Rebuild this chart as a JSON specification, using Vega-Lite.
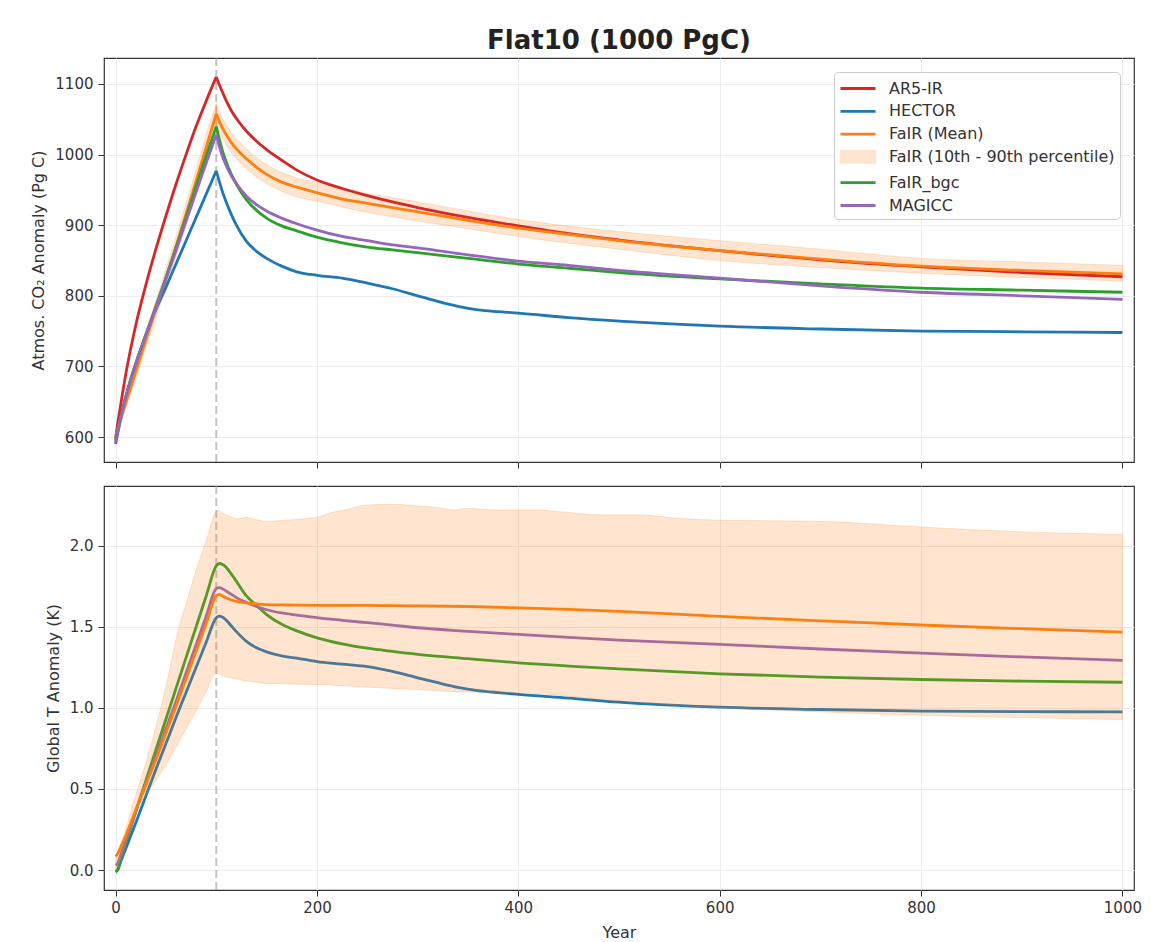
{
  "$schema": "https://vega.github.io/schema/vega-lite/v6.json",
  "padding": {"left": 30, "top": 28, "right": 7, "bottom": 0},
  "background": "white",
  "title": {"text": "Flat10 (1000 PgC)", "fontSize": 26, "fontWeight": "bold", "font": "DejaVu Sans", "color": "#222", "anchor": "middle", "frame": "group", "baseline": "alphabetic", "offset": -19},
  "config": {
    "font": "DejaVu Sans",
    "view": {"stroke": "#333", "strokeWidth": 1.2},
    "axis": {"labelFontSize": 15, "labelColor": "#333", "labelFont": "DejaVu Sans", "titleFont": "DejaVu Sans", "titleFontSize": 16, "titleFontWeight": "normal", "titleColor": "#333", "tickColor": "#333", "tickSize": 6, "tickWidth": 1, "domain": false, "gridColor": "#ececec", "gridWidth": 1, "labelPadding": 5, "titlePadding": 8}
  },
  "datasets": {
    "co2": [
      {"model":"AR5-IR","seg":"a","year":0,"value":598},{"model":"AR5-IR","seg":"a","year":2,"value":618},{"model":"AR5-IR","seg":"a","year":5,"value":645},{"model":"AR5-IR","seg":"a","year":10,"value":688},{"model":"AR5-IR","seg":"a","year":15,"value":725},{"model":"AR5-IR","seg":"a","year":20,"value":758},{"model":"AR5-IR","seg":"a","year":30,"value":815},{"model":"AR5-IR","seg":"a","year":40,"value":866},{"model":"AR5-IR","seg":"a","year":50,"value":913},{"model":"AR5-IR","seg":"a","year":60,"value":958},{"model":"AR5-IR","seg":"a","year":70,"value":1000},{"model":"AR5-IR","seg":"a","year":80,"value":1040},{"model":"AR5-IR","seg":"a","year":90,"value":1076},{"model":"AR5-IR","seg":"a","year":100,"value":1110},
      {"model":"AR5-IR","seg":"b","year":100,"value":1110},{"model":"AR5-IR","seg":"b","year":103,"value":1099},{"model":"AR5-IR","seg":"b","year":106,"value":1089},{"model":"AR5-IR","seg":"b","year":110,"value":1076},{"model":"AR5-IR","seg":"b","year":115,"value":1062},{"model":"AR5-IR","seg":"b","year":120,"value":1051},{"model":"AR5-IR","seg":"b","year":130,"value":1033},{"model":"AR5-IR","seg":"b","year":140,"value":1019},{"model":"AR5-IR","seg":"b","year":150,"value":1007},{"model":"AR5-IR","seg":"b","year":165,"value":992},{"model":"AR5-IR","seg":"b","year":180,"value":978},{"model":"AR5-IR","seg":"b","year":200,"value":964},{"model":"AR5-IR","seg":"b","year":225,"value":952},{"model":"AR5-IR","seg":"b","year":250,"value":942},{"model":"AR5-IR","seg":"b","year":275,"value":933},{"model":"AR5-IR","seg":"b","year":300,"value":925},{"model":"AR5-IR","seg":"b","year":350,"value":911},{"model":"AR5-IR","seg":"b","year":400,"value":899},{"model":"AR5-IR","seg":"b","year":450,"value":888},{"model":"AR5-IR","seg":"b","year":500,"value":879},{"model":"AR5-IR","seg":"b","year":600,"value":864},{"model":"AR5-IR","seg":"b","year":700,"value":851},{"model":"AR5-IR","seg":"b","year":800,"value":841},{"model":"AR5-IR","seg":"b","year":900,"value":833},{"model":"AR5-IR","seg":"b","year":1000,"value":827},
      {"model":"HECTOR","seg":"a","year":0,"value":590},{"model":"HECTOR","seg":"a","year":2,"value":604},{"model":"HECTOR","seg":"a","year":5,"value":625},{"model":"HECTOR","seg":"a","year":10,"value":655},{"model":"HECTOR","seg":"a","year":15,"value":680},{"model":"HECTOR","seg":"a","year":20,"value":703},{"model":"HECTOR","seg":"a","year":30,"value":744},{"model":"HECTOR","seg":"a","year":40,"value":780},{"model":"HECTOR","seg":"a","year":50,"value":812},{"model":"HECTOR","seg":"a","year":60,"value":845},{"model":"HECTOR","seg":"a","year":70,"value":878},{"model":"HECTOR","seg":"a","year":80,"value":911},{"model":"HECTOR","seg":"a","year":90,"value":944},{"model":"HECTOR","seg":"a","year":100,"value":977},
      {"model":"HECTOR","seg":"b","year":100,"value":977},{"model":"HECTOR","seg":"b","year":103,"value":962},{"model":"HECTOR","seg":"b","year":106,"value":948},{"model":"HECTOR","seg":"b","year":110,"value":932},{"model":"HECTOR","seg":"b","year":115,"value":915},{"model":"HECTOR","seg":"b","year":120,"value":900},{"model":"HECTOR","seg":"b","year":130,"value":877},{"model":"HECTOR","seg":"b","year":140,"value":863},{"model":"HECTOR","seg":"b","year":150,"value":853},{"model":"HECTOR","seg":"b","year":165,"value":842},{"model":"HECTOR","seg":"b","year":180,"value":834},{"model":"HECTOR","seg":"b","year":200,"value":829},{"model":"HECTOR","seg":"b","year":225,"value":825},{"model":"HECTOR","seg":"b","year":250,"value":818},{"model":"HECTOR","seg":"b","year":275,"value":810},{"model":"HECTOR","seg":"b","year":300,"value":800},{"model":"HECTOR","seg":"b","year":320,"value":792},{"model":"HECTOR","seg":"b","year":340,"value":785},{"model":"HECTOR","seg":"b","year":360,"value":780},{"model":"HECTOR","seg":"b","year":380,"value":777.5},{"model":"HECTOR","seg":"b","year":400,"value":775.5},{"model":"HECTOR","seg":"b","year":450,"value":769},{"model":"HECTOR","seg":"b","year":500,"value":764},{"model":"HECTOR","seg":"b","year":600,"value":757},{"model":"HECTOR","seg":"b","year":700,"value":753},{"model":"HECTOR","seg":"b","year":800,"value":750},{"model":"HECTOR","seg":"b","year":900,"value":749},{"model":"HECTOR","seg":"b","year":1000,"value":748},
      {"model":"FaIR (Mean)","seg":"a","year":0,"value":600},{"model":"FaIR (Mean)","seg":"a","year":2,"value":610},{"model":"FaIR (Mean)","seg":"a","year":5,"value":625},{"model":"FaIR (Mean)","seg":"a","year":10,"value":648},{"model":"FaIR (Mean)","seg":"a","year":15,"value":670},{"model":"FaIR (Mean)","seg":"a","year":20,"value":692},{"model":"FaIR (Mean)","seg":"a","year":30,"value":737},{"model":"FaIR (Mean)","seg":"a","year":40,"value":781},{"model":"FaIR (Mean)","seg":"a","year":50,"value":825},{"model":"FaIR (Mean)","seg":"a","year":60,"value":870},{"model":"FaIR (Mean)","seg":"a","year":70,"value":916},{"model":"FaIR (Mean)","seg":"a","year":80,"value":963},{"model":"FaIR (Mean)","seg":"a","year":90,"value":1010},{"model":"FaIR (Mean)","seg":"a","year":100,"value":1058},
      {"model":"FaIR (Mean)","seg":"b","year":100,"value":1058},{"model":"FaIR (Mean)","seg":"b","year":103,"value":1047},{"model":"FaIR (Mean)","seg":"b","year":106,"value":1038},{"model":"FaIR (Mean)","seg":"b","year":110,"value":1028},{"model":"FaIR (Mean)","seg":"b","year":115,"value":1017},{"model":"FaIR (Mean)","seg":"b","year":120,"value":1008},{"model":"FaIR (Mean)","seg":"b","year":130,"value":994},{"model":"FaIR (Mean)","seg":"b","year":140,"value":982},{"model":"FaIR (Mean)","seg":"b","year":150,"value":972},{"model":"FaIR (Mean)","seg":"b","year":165,"value":961},{"model":"FaIR (Mean)","seg":"b","year":180,"value":954},{"model":"FaIR (Mean)","seg":"b","year":200,"value":946},{"model":"FaIR (Mean)","seg":"b","year":225,"value":937},{"model":"FaIR (Mean)","seg":"b","year":250,"value":931},{"model":"FaIR (Mean)","seg":"b","year":275,"value":925},{"model":"FaIR (Mean)","seg":"b","year":300,"value":919},{"model":"FaIR (Mean)","seg":"b","year":350,"value":907},{"model":"FaIR (Mean)","seg":"b","year":400,"value":896},{"model":"FaIR (Mean)","seg":"b","year":450,"value":887},{"model":"FaIR (Mean)","seg":"b","year":500,"value":878},{"model":"FaIR (Mean)","seg":"b","year":600,"value":864},{"model":"FaIR (Mean)","seg":"b","year":700,"value":852},{"model":"FaIR (Mean)","seg":"b","year":800,"value":842},{"model":"FaIR (Mean)","seg":"b","year":900,"value":836},{"model":"FaIR (Mean)","seg":"b","year":1000,"value":831},
      {"model":"FaIR_bgc","seg":"a","year":0,"value":595},{"model":"FaIR_bgc","seg":"a","year":2,"value":610},{"model":"FaIR_bgc","seg":"a","year":5,"value":628},{"model":"FaIR_bgc","seg":"a","year":10,"value":657},{"model":"FaIR_bgc","seg":"a","year":15,"value":682},{"model":"FaIR_bgc","seg":"a","year":20,"value":704},{"model":"FaIR_bgc","seg":"a","year":30,"value":745},{"model":"FaIR_bgc","seg":"a","year":40,"value":785},{"model":"FaIR_bgc","seg":"a","year":50,"value":826},{"model":"FaIR_bgc","seg":"a","year":60,"value":868},{"model":"FaIR_bgc","seg":"a","year":70,"value":911},{"model":"FaIR_bgc","seg":"a","year":80,"value":955},{"model":"FaIR_bgc","seg":"a","year":90,"value":998},{"model":"FaIR_bgc","seg":"a","year":100,"value":1040},
      {"model":"FaIR_bgc","seg":"b","year":100,"value":1040},{"model":"FaIR_bgc","seg":"b","year":103,"value":1022},{"model":"FaIR_bgc","seg":"b","year":106,"value":1006},{"model":"FaIR_bgc","seg":"b","year":110,"value":989},{"model":"FaIR_bgc","seg":"b","year":115,"value":972},{"model":"FaIR_bgc","seg":"b","year":120,"value":958},{"model":"FaIR_bgc","seg":"b","year":130,"value":936},{"model":"FaIR_bgc","seg":"b","year":140,"value":921},{"model":"FaIR_bgc","seg":"b","year":150,"value":910},{"model":"FaIR_bgc","seg":"b","year":165,"value":899},{"model":"FaIR_bgc","seg":"b","year":180,"value":892},{"model":"FaIR_bgc","seg":"b","year":200,"value":883},{"model":"FaIR_bgc","seg":"b","year":225,"value":875},{"model":"FaIR_bgc","seg":"b","year":250,"value":869},{"model":"FaIR_bgc","seg":"b","year":275,"value":865},{"model":"FaIR_bgc","seg":"b","year":300,"value":861},{"model":"FaIR_bgc","seg":"b","year":350,"value":853},{"model":"FaIR_bgc","seg":"b","year":400,"value":845},{"model":"FaIR_bgc","seg":"b","year":450,"value":839},{"model":"FaIR_bgc","seg":"b","year":500,"value":833},{"model":"FaIR_bgc","seg":"b","year":600,"value":824},{"model":"FaIR_bgc","seg":"b","year":700,"value":817},{"model":"FaIR_bgc","seg":"b","year":800,"value":811},{"model":"FaIR_bgc","seg":"b","year":900,"value":808},{"model":"FaIR_bgc","seg":"b","year":1000,"value":805},
      {"model":"MAGICC","seg":"a","year":0,"value":592},{"model":"MAGICC","seg":"a","year":2,"value":607},{"model":"MAGICC","seg":"a","year":5,"value":626},{"model":"MAGICC","seg":"a","year":10,"value":656},{"model":"MAGICC","seg":"a","year":15,"value":681},{"model":"MAGICC","seg":"a","year":20,"value":703},{"model":"MAGICC","seg":"a","year":30,"value":744},{"model":"MAGICC","seg":"a","year":40,"value":783},{"model":"MAGICC","seg":"a","year":50,"value":823},{"model":"MAGICC","seg":"a","year":60,"value":864},{"model":"MAGICC","seg":"a","year":70,"value":906},{"model":"MAGICC","seg":"a","year":80,"value":947},{"model":"MAGICC","seg":"a","year":90,"value":988},{"model":"MAGICC","seg":"a","year":100,"value":1028},
      {"model":"MAGICC","seg":"b","year":100,"value":1028},{"model":"MAGICC","seg":"b","year":103,"value":1012},{"model":"MAGICC","seg":"b","year":106,"value":998},{"model":"MAGICC","seg":"b","year":110,"value":984},{"model":"MAGICC","seg":"b","year":115,"value":970},{"model":"MAGICC","seg":"b","year":120,"value":959},{"model":"MAGICC","seg":"b","year":130,"value":941},{"model":"MAGICC","seg":"b","year":140,"value":929},{"model":"MAGICC","seg":"b","year":150,"value":920},{"model":"MAGICC","seg":"b","year":165,"value":910},{"model":"MAGICC","seg":"b","year":180,"value":902},{"model":"MAGICC","seg":"b","year":200,"value":893},{"model":"MAGICC","seg":"b","year":225,"value":884},{"model":"MAGICC","seg":"b","year":250,"value":878},{"model":"MAGICC","seg":"b","year":275,"value":872},{"model":"MAGICC","seg":"b","year":300,"value":868},{"model":"MAGICC","seg":"b","year":350,"value":858},{"model":"MAGICC","seg":"b","year":400,"value":849},{"model":"MAGICC","seg":"b","year":450,"value":843},{"model":"MAGICC","seg":"b","year":500,"value":836},{"model":"MAGICC","seg":"b","year":600,"value":825},{"model":"MAGICC","seg":"b","year":700,"value":814},{"model":"MAGICC","seg":"b","year":800,"value":805},{"model":"MAGICC","seg":"b","year":900,"value":800},{"model":"MAGICC","seg":"b","year":1000,"value":795}
    ],
    "co2band": [
      {"seg":"a","year":0,"lo":596,"hi":604},{"seg":"a","year":10,"lo":640,"hi":658},{"seg":"a","year":20,"lo":683,"hi":703},{"seg":"a","year":30,"lo":726,"hi":748},{"seg":"a","year":40,"lo":769,"hi":793},{"seg":"a","year":50,"lo":811,"hi":838},{"seg":"a","year":60,"lo":855,"hi":884},{"seg":"a","year":70,"lo":899,"hi":931},{"seg":"a","year":80,"lo":944,"hi":979},{"seg":"a","year":90,"lo":990,"hi":1028},{"seg":"a","year":100,"lo":1043,"hi":1072},
      {"seg":"b","year":100,"lo":1043,"hi":1072},{"seg":"b","year":103,"lo":1033,"hi":1061},{"seg":"b","year":106,"lo":1024,"hi":1052},{"seg":"b","year":110,"lo":1014,"hi":1042},{"seg":"b","year":115,"lo":1003,"hi":1031},{"seg":"b","year":120,"lo":994,"hi":1022},{"seg":"b","year":130,"lo":980,"hi":1008},{"seg":"b","year":140,"lo":968,"hi":996},{"seg":"b","year":150,"lo":959,"hi":986},{"seg":"b","year":165,"lo":948,"hi":975},{"seg":"b","year":180,"lo":940,"hi":967},{"seg":"b","year":200,"lo":934,"hi":961},{"seg":"b","year":250,"lo":918,"hi":945},{"seg":"b","year":300,"lo":906,"hi":933},{"seg":"b","year":350,"lo":895,"hi":920},{"seg":"b","year":400,"lo":884,"hi":908},{"seg":"b","year":500,"lo":866,"hi":891},{"seg":"b","year":600,"lo":850,"hi":878},{"seg":"b","year":700,"lo":840,"hi":866},{"seg":"b","year":800,"lo":832,"hi":853},{"seg":"b","year":900,"lo":826,"hi":848},{"seg":"b","year":1000,"lo":821,"hi":843}
    ],
    "temp": [
      {"year":0,"model":"HECTOR","value":-0.01},{"year":2,"model":"HECTOR","value":0.0},{"year":5,"model":"HECTOR","value":0.05},{"year":10,"model":"HECTOR","value":0.13},{"year":15,"model":"HECTOR","value":0.21},{"year":20,"model":"HECTOR","value":0.29},{"year":30,"model":"HECTOR","value":0.455},{"year":40,"model":"HECTOR","value":0.62},{"year":50,"model":"HECTOR","value":0.78},{"year":60,"model":"HECTOR","value":0.94},{"year":70,"model":"HECTOR","value":1.095},{"year":80,"model":"HECTOR","value":1.25},{"year":90,"model":"HECTOR","value":1.405},{"year":100,"model":"HECTOR","value":1.555},{"year":103,"model":"HECTOR","value":1.566},{"year":106,"model":"HECTOR","value":1.56},{"year":110,"model":"HECTOR","value":1.54},{"year":115,"model":"HECTOR","value":1.505},{"year":120,"model":"HECTOR","value":1.47},{"year":130,"model":"HECTOR","value":1.41},{"year":140,"model":"HECTOR","value":1.37},{"year":150,"model":"HECTOR","value":1.345},{"year":165,"model":"HECTOR","value":1.32},{"year":180,"model":"HECTOR","value":1.307},{"year":200,"model":"HECTOR","value":1.285},{"year":225,"model":"HECTOR","value":1.27},{"year":250,"model":"HECTOR","value":1.255},{"year":275,"model":"HECTOR","value":1.225},{"year":300,"model":"HECTOR","value":1.185},{"year":320,"model":"HECTOR","value":1.155},{"year":340,"model":"HECTOR","value":1.127},{"year":360,"model":"HECTOR","value":1.107},{"year":380,"model":"HECTOR","value":1.094},{"year":400,"model":"HECTOR","value":1.083},{"year":450,"model":"HECTOR","value":1.06},{"year":500,"model":"HECTOR","value":1.035},{"year":600,"model":"HECTOR","value":1.004},{"year":700,"model":"HECTOR","value":0.99},{"year":800,"model":"HECTOR","value":0.98},{"year":900,"model":"HECTOR","value":0.977},{"year":1000,"model":"HECTOR","value":0.975},
      {"year":0,"model":"FaIR_bgc","value":-0.01},{"year":2,"model":"FaIR_bgc","value":0.0},{"year":5,"model":"FaIR_bgc","value":0.06},{"year":10,"model":"FaIR_bgc","value":0.16},{"year":15,"model":"FaIR_bgc","value":0.26},{"year":20,"model":"FaIR_bgc","value":0.36},{"year":30,"model":"FaIR_bgc","value":0.55},{"year":40,"model":"FaIR_bgc","value":0.74},{"year":50,"model":"FaIR_bgc","value":0.93},{"year":60,"model":"FaIR_bgc","value":1.12},{"year":70,"model":"FaIR_bgc","value":1.31},{"year":80,"model":"FaIR_bgc","value":1.5},{"year":90,"model":"FaIR_bgc","value":1.69},{"year":100,"model":"FaIR_bgc","value":1.875},{"year":103,"model":"FaIR_bgc","value":1.89},{"year":106,"model":"FaIR_bgc","value":1.885},{"year":110,"model":"FaIR_bgc","value":1.865},{"year":115,"model":"FaIR_bgc","value":1.825},{"year":120,"model":"FaIR_bgc","value":1.78},{"year":130,"model":"FaIR_bgc","value":1.69},{"year":140,"model":"FaIR_bgc","value":1.63},{"year":150,"model":"FaIR_bgc","value":1.575},{"year":165,"model":"FaIR_bgc","value":1.515},{"year":180,"model":"FaIR_bgc","value":1.475},{"year":200,"model":"FaIR_bgc","value":1.432},{"year":225,"model":"FaIR_bgc","value":1.395},{"year":250,"model":"FaIR_bgc","value":1.368},{"year":275,"model":"FaIR_bgc","value":1.348},{"year":300,"model":"FaIR_bgc","value":1.33},{"year":350,"model":"FaIR_bgc","value":1.303},{"year":400,"model":"FaIR_bgc","value":1.278},{"year":450,"model":"FaIR_bgc","value":1.258},{"year":500,"model":"FaIR_bgc","value":1.24},{"year":600,"model":"FaIR_bgc","value":1.21},{"year":700,"model":"FaIR_bgc","value":1.19},{"year":800,"model":"FaIR_bgc","value":1.175},{"year":900,"model":"FaIR_bgc","value":1.165},{"year":1000,"model":"FaIR_bgc","value":1.158},
      {"year":0,"model":"MAGICC","value":0.03},{"year":2,"model":"MAGICC","value":0.04},{"year":5,"model":"MAGICC","value":0.09},{"year":10,"model":"MAGICC","value":0.18},{"year":15,"model":"MAGICC","value":0.27},{"year":20,"model":"MAGICC","value":0.36},{"year":30,"model":"MAGICC","value":0.53},{"year":40,"model":"MAGICC","value":0.70},{"year":50,"model":"MAGICC","value":0.87},{"year":60,"model":"MAGICC","value":1.04},{"year":70,"model":"MAGICC","value":1.215},{"year":80,"model":"MAGICC","value":1.39},{"year":90,"model":"MAGICC","value":1.565},{"year":100,"model":"MAGICC","value":1.735},{"year":103,"model":"MAGICC","value":1.741},{"year":106,"model":"MAGICC","value":1.735},{"year":110,"model":"MAGICC","value":1.72},{"year":115,"model":"MAGICC","value":1.70},{"year":120,"model":"MAGICC","value":1.68},{"year":130,"model":"MAGICC","value":1.65},{"year":140,"model":"MAGICC","value":1.625},{"year":150,"model":"MAGICC","value":1.605},{"year":165,"model":"MAGICC","value":1.585},{"year":180,"model":"MAGICC","value":1.572},{"year":200,"model":"MAGICC","value":1.556},{"year":225,"model":"MAGICC","value":1.54},{"year":250,"model":"MAGICC","value":1.525},{"year":275,"model":"MAGICC","value":1.51},{"year":300,"model":"MAGICC","value":1.494},{"year":350,"model":"MAGICC","value":1.472},{"year":400,"model":"MAGICC","value":1.453},{"year":450,"model":"MAGICC","value":1.435},{"year":500,"model":"MAGICC","value":1.418},{"year":600,"model":"MAGICC","value":1.391},{"year":700,"model":"MAGICC","value":1.363},{"year":800,"model":"MAGICC","value":1.337},{"year":900,"model":"MAGICC","value":1.314},{"year":1000,"model":"MAGICC","value":1.293}
    ],
    "tempfair": [
      {"year":0,"value":0.085},{"year":2,"value":0.1},{"year":5,"value":0.14},{"year":10,"value":0.21},{"year":15,"value":0.29},{"year":20,"value":0.37},{"year":30,"value":0.525},{"year":40,"value":0.68},{"year":50,"value":0.845},{"year":60,"value":1.01},{"year":70,"value":1.18},{"year":80,"value":1.35},{"year":90,"value":1.52},{"year":100,"value":1.692},{"year":103,"value":1.70},{"year":106,"value":1.69},{"year":110,"value":1.677},{"year":115,"value":1.665},{"year":120,"value":1.656},{"year":130,"value":1.647},{"year":140,"value":1.641},{"year":150,"value":1.637},{"year":165,"value":1.635},{"year":180,"value":1.633},{"year":200,"value":1.632},{"year":225,"value":1.632},{"year":250,"value":1.632},{"year":275,"value":1.63},{"year":300,"value":1.629},{"year":350,"value":1.625},{"year":400,"value":1.617},{"year":450,"value":1.607},{"year":500,"value":1.595},{"year":600,"value":1.564},{"year":700,"value":1.537},{"year":800,"value":1.511},{"year":900,"value":1.488},{"year":1000,"value":1.467}
    ],
    "tband": [
      {"year":0,"lo":0.0,"hi":0.09},{"year":5,"lo":0.07,"hi":0.16},{"year":10,"lo":0.15,"hi":0.25},{"year":15,"lo":0.25,"hi":0.36},{"year":20,"lo":0.35,"hi":0.46},{"year":23,"lo":0.40,"hi":0.52},{"year":30,"lo":0.46,"hi":0.66},{"year":40,"lo":0.55,"hi":0.88},{"year":50,"lo":0.65,"hi":1.13},{"year":63,"lo":0.79,"hi":1.5},{"year":70,"lo":0.87,"hi":1.64},{"year":80,"lo":0.98,"hi":1.85},{"year":90,"lo":1.10,"hi":2.03},{"year":100,"lo":1.216,"hi":2.21},{"year":103,"lo":1.21,"hi":2.215},{"year":106,"lo":1.2,"hi":2.2},{"year":110,"lo":1.19,"hi":2.19},{"year":115,"lo":1.185,"hi":2.175},{"year":120,"lo":1.18,"hi":2.165},{"year":130,"lo":1.165,"hi":2.175},{"year":140,"lo":1.16,"hi":2.16},{"year":150,"lo":1.15,"hi":2.15},{"year":165,"lo":1.148,"hi":2.155},{"year":182,"lo":1.145,"hi":2.163},{"year":200,"lo":1.144,"hi":2.175},{"year":215,"lo":1.14,"hi":2.205},{"year":231,"lo":1.135,"hi":2.225},{"year":248,"lo":1.128,"hi":2.25},{"year":275,"lo":1.12,"hi":2.255},{"year":300,"lo":1.113,"hi":2.245},{"year":320,"lo":1.105,"hi":2.235},{"year":336,"lo":1.1,"hi":2.22},{"year":348,"lo":1.098,"hi":2.23},{"year":380,"lo":1.094,"hi":2.22},{"year":413,"lo":1.09,"hi":2.22},{"year":450,"lo":1.072,"hi":2.205},{"year":480,"lo":1.052,"hi":2.19},{"year":520,"lo":1.035,"hi":2.19},{"year":560,"lo":1.015,"hi":2.168},{"year":600,"lo":1.0,"hi":2.157},{"year":700,"lo":0.975,"hi":2.15},{"year":800,"lo":0.955,"hi":2.115},{"year":900,"lo":0.94,"hi":2.085},{"year":1000,"lo":0.928,"hi":2.07}
    ],
    "marker": [{"year": 100}]
  },
  "spacing": 14,
  "resolve": {"scale": {"color": "independent", "strokeWidth": "independent"}, "legend": {"color": "independent"}},
  "vconcat": [
    {
      "width": 1030,
      "height": 404,
      "layer": [
        {
          "data": {"name": "marker"},
          "mark": {"type": "rule", "color": "#9a9a9a", "opacity": 0.6, "strokeWidth": 2, "strokeDash": [8, 4]},
          "encoding": {"x": {"field": "year", "type": "quantitative", "scale": {"domain": [-11.5, 1011.5], "nice": false, "zero": false}}}
        },
        {
          "data": {"name": "co2band"},
          "mark": {"type": "area", "interpolate": "monotone", "fill": "#ff7f0e", "fillOpacity": 0.2, "stroke": "#ff7f0e", "strokeOpacity": 0.2, "strokeWidth": 1},
          "encoding": {
            "x": {"field": "year", "type": "quantitative", "scale": {"domain": [-11.5, 1011.5], "nice": false, "zero": false}, "axis": {"values": [0, 200, 400, 600, 800, 1000], "labels": false, "title": null, "grid": true}},
            "y": {"field": "lo", "type": "quantitative", "scale": {"domain": [564.6, 1136.8], "nice": false, "zero": false}, "axis": {"values": [600, 700, 800, 900, 1000, 1100], "format": "d", "title": "Atmos. CO₂ Anomaly (Pg C)", "grid": true}},
            "y2": {"field": "hi"},
            "detail": {"field": "seg", "type": "nominal"}
          }
        },
        {
          "data": {"name": "co2"},
          "mark": {"type": "line", "interpolate": "monotone"},
          "encoding": {
            "x": {"field": "year", "type": "quantitative"},
            "y": {"field": "value", "type": "quantitative"},
            "detail": {"field": "seg", "type": "nominal"},
            "color": {
              "field": "model", "type": "nominal",
              "scale": {"domain": ["AR5-IR", "HECTOR", "FaIR (Mean)", "FaIR (10th - 90th percentile)", "FaIR_bgc", "MAGICC"], "range": ["#d62728", "#1f77b4", "#ff7f0e", "#ffe5cf", "#2ca02c", "#9467bd"]},
              "legend": {
                "title": null, "orient": "top-right", "offset": 14,
                "labelFont": "DejaVu Sans", "labelFontSize": 16, "labelColor": "#333", "labelLimit": 400,
                "symbolSize": 400, "symbolStrokeWidth": 2.8, "symbolOffset": 7.5, "labelOffset": 19.5,
                "rowPadding": 2.8, "padding": 5,
                "fillColor": "rgba(255,255,255,0.85)", "strokeColor": "#cccccc", "cornerRadius": 4,
                "encode": {
                  "symbols": {
                    "update": {
                      "shape": {"signal": "datum.value === 'FaIR (10th - 90th percentile)' ? 'M-1.7,-0.55H1.7V0.55H-1.7Z' : 'M-1.75,0H1.75'"},
                      "fill": {"signal": "datum.value === 'FaIR (10th - 90th percentile)' ? '#ffe5cf' : 'transparent'"},
                      "stroke": {"signal": "datum.value === 'AR5-IR' ? '#d62728' : datum.value === 'HECTOR' ? '#1f77b4' : datum.value === 'FaIR (Mean)' ? '#ff7f0e' : datum.value === 'FaIR_bgc' ? '#2ca02c' : datum.value === 'MAGICC' ? '#9467bd' : '#ffcc9e'"},
                      "strokeWidth": {"signal": "datum.value === 'FaIR_bgc' ? 2.1 : datum.value === 'FaIR (10th - 90th percentile)' ? 1 : 2.8"},
                      "opacity": {"value": 1}
                    }
                  }
                }
              }
            },
            "strokeWidth": {
              "field": "model", "type": "ordinal",
              "scale": {"domain": ["AR5-IR", "HECTOR", "FaIR (Mean)", "FaIR (10th - 90th percentile)", "FaIR_bgc", "MAGICC"], "range": [2.8, 2.8, 2.8, 1, 2.1, 2.7]},
              "legend": null
            }
          }
        }
      ]
    },
    {
      "width": 1030,
      "height": 404,
      "layer": [
        {
          "data": {"name": "marker"},
          "mark": {"type": "rule", "color": "#9a9a9a", "opacity": 0.6, "strokeWidth": 2, "strokeDash": [8, 4]},
          "encoding": {"x": {"field": "year", "type": "quantitative", "scale": {"domain": [-11.5, 1011.5], "nice": false, "zero": false}}}
        },
        {
          "data": {"name": "temp"},
          "mark": {"type": "line", "strokeWidth": 2.8, "interpolate": "monotone"},
          "encoding": {
            "x": {"field": "year", "type": "quantitative", "scale": {"domain": [-11.5, 1011.5], "nice": false, "zero": false}, "axis": {"values": [0, 200, 400, 600, 800, 1000], "format": "d", "title": "Year", "grid": true, "labelPadding": 4, "titlePadding": 9}},
            "y": {"field": "value", "type": "quantitative", "scale": {"domain": [-0.123, 2.368], "nice": false, "zero": false}, "axis": {"values": [0, 0.5, 1, 1.5, 2], "format": ".1f", "title": "Global T Anomaly (K)", "grid": true}},
            "color": {"field": "model", "type": "nominal", "scale": {"domain": ["HECTOR", "FaIR_bgc", "MAGICC"], "range": ["#1f77b4", "#2ca02c", "#9467bd"]}, "legend": null}
          }
        },
        {
          "data": {"name": "tband"},
          "mark": {"type": "area", "interpolate": "monotone", "fill": "#ff7f0e", "fillOpacity": 0.2, "stroke": "#ff7f0e", "strokeOpacity": 0.2, "strokeWidth": 1},
          "encoding": {
            "x": {"field": "year", "type": "quantitative"},
            "y": {"field": "lo", "type": "quantitative"},
            "y2": {"field": "hi"}
          }
        },
        {
          "data": {"name": "tempfair"},
          "mark": {"type": "line", "strokeWidth": 2.8, "color": "#ff7f0e", "interpolate": "monotone"},
          "encoding": {
            "x": {"field": "year", "type": "quantitative"},
            "y": {"field": "value", "type": "quantitative"}
          }
        }
      ]
    }
  ]
}
